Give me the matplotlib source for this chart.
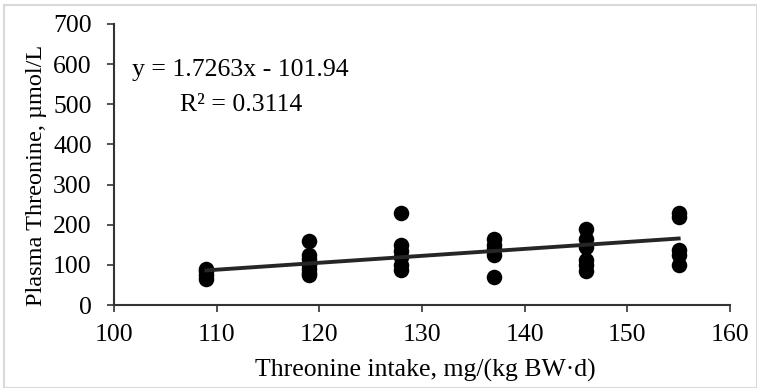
import matplotlib
matplotlib.use("Agg")
import matplotlib.pyplot as plt
from matplotlib.patches import Rectangle

intake_levels = [109, 119, 128, 137, 146, 155]
thr_109 = [90, 85, 75, 65]
thr_119 = [160, 125, 115, 100, 90, 80, 75]
thr_128 = [228, 150, 135, 120, 100, 88]
thr_137 = [165, 150, 140, 125, 70]
thr_146 = [190, 165, 145, 112, 100, 85]
thr_155 = [228, 220, 137, 125, 100]
groups = [thr_109, thr_119, thr_128, thr_137, thr_146, thr_155]

slope = 1.7263
intercept = -101.94
xticks = [100, 110, 120, 130, 140, 150, 160]
yticks = [0, 100, 200, 300, 400, 500, 600, 700]

plt.rcParams['font.family'] = ['Liberation Serif', 'DejaVu Serif']

W, H = 757, 388
fig = plt.figure(figsize=(W/100, H/100), dpi=100)
ax = fig.add_axes([114/W, 1 - 305/H, (730-114)/W, (305-24)/H])

xs, ys = [], []
for lvl, g in zip(intake_levels, groups):
    xs += [lvl] * len(g)
    ys += g
ax.scatter(xs, ys, s=125, color='black', zorder=3, linewidths=0)

lx = [min(intake_levels), max(intake_levels)]
ly = [slope * v + intercept for v in lx]
ax.plot(lx, ly, color='#262626', lw=2.8, zorder=4)

ax.set_xlim(100, 160)
ax.set_ylim(0, 700)
ax.set_xticks(xticks)
ax.set_yticks(yticks)
ax.tick_params(axis='both', direction='out', length=5, width=1.2, color='#333333', labelsize=18.5)
ax.tick_params(axis='x', pad=9)
ax.tick_params(axis='y', pad=11)
for s in ['top', 'right']:
    ax.spines[s].set_visible(False)
for s in ['left', 'bottom']:
    ax.spines[s].set_color('#333333')
    ax.spines[s].set_linewidth(1.5)

fig.text(425/W, 1 - 370/H, 'Threonine intake, mg/(kg BW\u00b7d)', fontsize=18.5,
         ha='center', va='center')
fig.text(37/W, 1 - 175/H, 'Plasma Threonine, \u00b5mol/L', fontsize=17.5,
         ha='center', va='center', rotation=90)

fig.text(132/W, 1 - 70/H, 'y = 1.7263x - 101.94', fontsize=18.5, va='center', ha='left')
fig.text(180/W, 1 - 105/H, 'R\u00b2 = 0.3114', fontsize=18.5, va='center', ha='left')

fig.patches.append(Rectangle((4/W, 0), 1 - 4/W, 1 - 5/H, transform=fig.transFigure,
                             fill=False, edgecolor='#d9d9d9', lw=1.5))

fig.savefig('out.png', dpi=100)
